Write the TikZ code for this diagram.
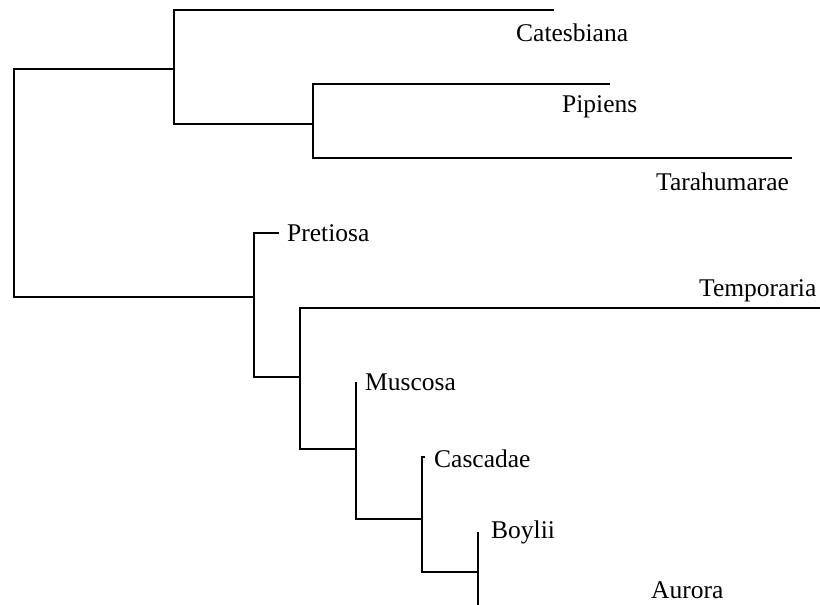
\documentclass[tikz,border=0pt]{standalone}
\usepackage{fontspec}
\setmainfont{Liberation Serif}
\begin{document}
\begin{tikzpicture}[x=1pt,y=-1pt,
  branch/.style={draw=black,line width=2pt,line join=miter},
  taxon/.style={anchor=base west,inner sep=0pt,font=\fontsize{25.5}{30}\selectfont}]
\useasboundingbox (0,0) rectangle (820,605);
% internal nodes (x of node, y where its stem attaches)
\coordinate (root) at (14,183);
\coordinate (n1) at (174,69);
\coordinate (n2) at (313,124);
\coordinate (n3) at (254,297);
\coordinate (n4) at (300,377);
\coordinate (n5) at (356,449);
\coordinate (n6) at (422,519);
\coordinate (n7) at (478,572);
% tip ends
\coordinate (tCat) at (554,9.5);
\coordinate (tPip) at (610,84);
\coordinate (tTar) at (792,158);
\coordinate (tPre) at (279,233);
\coordinate (tTem) at (820,308);
\coordinate (tMus) at (356,382);
\coordinate (tCas) at (425,457);
\coordinate (tBoy) at (478,532);
\coordinate (tAur) at (478,605);
% branches
\draw[branch] (n1) -- (n1 -| root) -- (n3 -| root) -- (n3);
\draw[branch] (tCat) -- (tCat -| n1) -- (n2 -| n1) -- (n2);
\draw[branch] (tPip) -- (tPip -| n2) -- (tTar -| n2) -- (tTar);
\draw[branch] (tPre) -- (tPre -| n3) -- (n4 -| n3) -- (n4);
\draw[branch] (tTem) -- (tTem -| n4) -- (n5 -| n4) -- (n5);
\draw[branch] (tMus) -- (n6 -| n5) -- (n6);
\draw[branch] (tCas) -- (tCas -| n6) -- (n7 -| n6) -- (n7);
\draw[branch] (tBoy) -- (tAur);
% labels
\node[taxon] (lCat) at (516,41) {Catesbiana};
\node[taxon] (lPip) at (562,112) {Pipiens};
\node[taxon] (lTar) at (656,190) {Tarahumarae};
\node[taxon] (lPre) at (287,241) {Pretiosa};
\node[taxon] (lTem) at (699,296) {Temporaria};
\node[taxon] (lMus) at (365,390) {Muscosa};
\node[taxon] (lCas) at (434,467) {Cascadae};
\node[taxon] (lBoy) at (491,538) {Boylii};
\node[taxon] (lAur) at (651,598) {Aurora};
\end{tikzpicture}
\end{document}
